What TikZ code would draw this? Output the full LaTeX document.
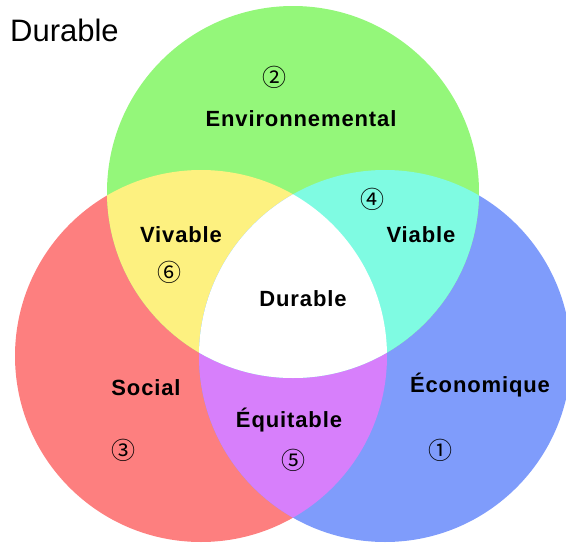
\documentclass[tikz,border=0pt]{standalone}
\usepackage{fontspec}
\setmainfont{Liberation Sans}
\newfontfamily\lblfont[LetterSpace=4]{Liberation Sans}
\newfontfamily\circfont{Noto Sans CJK JP}
\usepackage{xcolor}
\usepackage{tikz}

\definecolor{envgreen}{RGB}{148,247,122}
\definecolor{socred}{RGB}{253,127,127}
\definecolor{ecoblue}{RGB}{127,156,251}
\definecolor{vivyellow}{RGB}{253,241,128}
\definecolor{viacyan}{RGB}{127,251,226}
\definecolor{equpurple}{RGB}{215,127,251}

\tikzset{
  lbl/.style={font=\lblfont\bfseries\fontsize{22}{26}\selectfont, anchor=base, inner sep=0pt},
  num/.style={font=\circfont\fontsize{24}{26}\selectfont, inner sep=0pt},
}

\begin{document}
\begin{tikzpicture}[x=1pt,y=-1pt]

\clip (0,0) rectangle (566,544);
\useasboundingbox (0,0) rectangle (566,544);

\def\envcircle{(293,192) circle (186)}
\def\soccircle{(201,356) circle (186)}
\def\ecocircle{(385,356) circle (186)}

\fill[socred] \soccircle;
\fill[ecoblue] \ecocircle;
\fill[envgreen] \envcircle;

%two at a time
\begin{scope}
  \clip \soccircle;
  \fill[vivyellow] \envcircle;
  \fill[equpurple] \ecocircle;
\end{scope}
\begin{scope}
  \clip \ecocircle;
  \fill[viacyan] \envcircle;
\end{scope}

%all three
\begin{scope}
  \clip \soccircle;
  \clip \ecocircle;
  \fill[white] \envcircle;
\end{scope}

\node[anchor=base west, inner sep=0pt, font=\fontsize{31}{34}\selectfont] (title) at (10,41) {Durable};

\node[lbl] (env) at (301,126) {Environnemental};
\node[lbl] (viv) at (181,242) {Vivable};
\node[lbl] (via) at (421,242) {Viable};
\node[lbl] (dur) at (303,306) {Durable};
\node[lbl] (soc) at (146,395) {Social};
\node[lbl] (eco) at (480,392) {Économique};
\node[lbl] (equ) at (289,427) {Équitable};

\node[num] (n1) at (440,450) {①};
\node[num] (n2) at (274,77) {②};
\node[num] (n3) at (123,450) {③};
\node[num] (n4) at (372,199) {④};
\node[num] (n5) at (293,460) {⑤};
\node[num] (n6) at (169,272) {⑥};

\end{tikzpicture}
\end{document}
